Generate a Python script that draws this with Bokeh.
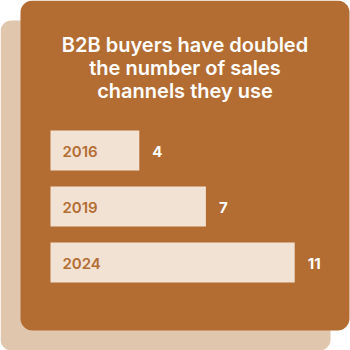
from bokeh.plotting import figure
from bokeh.models import Range1d, BoxAnnotation, Label, ColumnDataSource
from bokeh.core.properties import value
from bokeh.embed import file_html
from bokeh.resources import INLINE

years = ["2016", "2019", "2024"]
channels = [4, 7, 11]
title_lines = ["B2B buyers have doubled", "the number of sales", "channels they use"]

BROWN = "#b36d32"
BAR = "#f2e2d4"
BACK = "#dfc6ad"
TITLE_FONT = "Inter SemiBold"
YEAR_FONT = "Inter SemiBold"
VALUE_FONT = "Inter"

W = H = 350
PX_PER_UNIT = 22.2
X0 = 50
ROW0 = 150
ROW_STEP = 56

p = figure(width=W, height=H, output_backend="svg", toolbar_location=None,
           min_border=0, border_fill_color="white", background_fill_color="white",
           outline_line_color=None,
           x_range=Range1d(-X0 / PX_PER_UNIT, (W - X0) / PX_PER_UNIT),
           y_range=Range1d((H - ROW0) / ROW_STEP, -ROW0 / ROW_STEP))
p.axis.visible = False
p.grid.visible = False

p.add_layout(BoxAnnotation(left=0, right=330, bottom=0, top=330,
                           left_units="screen", right_units="screen",
                           bottom_units="screen", top_units="screen",
                           fill_color=BACK, fill_alpha=1, line_color=None,
                           border_radius=11, level="underlay"))
p.add_layout(BoxAnnotation(left=20, right=349, bottom=20, top=350,
                           left_units="screen", right_units="screen",
                           bottom_units="screen", top_units="screen",
                           fill_color=BROWN, fill_alpha=1, line_color=None,
                           border_radius=12, level="underlay"))

ys = list(range(len(years)))
src = ColumnDataSource(dict(y=ys, year=years, v=channels,
                            vt=[str(c) for c in channels]))

p.hbar(y="y", left=0, right="v", height=40 / ROW_STEP, source=src,
       fill_color=BAR, line_color=None)

p.text(x=0, y="y", text="year", source=src, x_offset=12, y_offset=1,
       text_font=value(YEAR_FONT), text_font_size="15px", text_font_style="normal",
       text_color=BROWN, text_baseline="middle", text_align="left")
p.text(x="v", y="y", text="vt", source=src, x_offset=13, y_offset=1,
       text_font=value(VALUE_FONT), text_font_size="15px", text_font_style="bold",
       text_color="white", text_baseline="middle", text_align="left")

baselines = [44, 67, 90]
for line, b in zip(title_lines, baselines):
    p.add_layout(Label(x=184.5, y=H - b, x_units="screen", y_units="screen",
                       text=line, text_font=TITLE_FONT, text_font_size="20px",
                       text_font_style="normal", text_color="white",
                       text_align="center", text_baseline="alphabetic"))

open("out.html", "w").write(file_html(p, INLINE))
